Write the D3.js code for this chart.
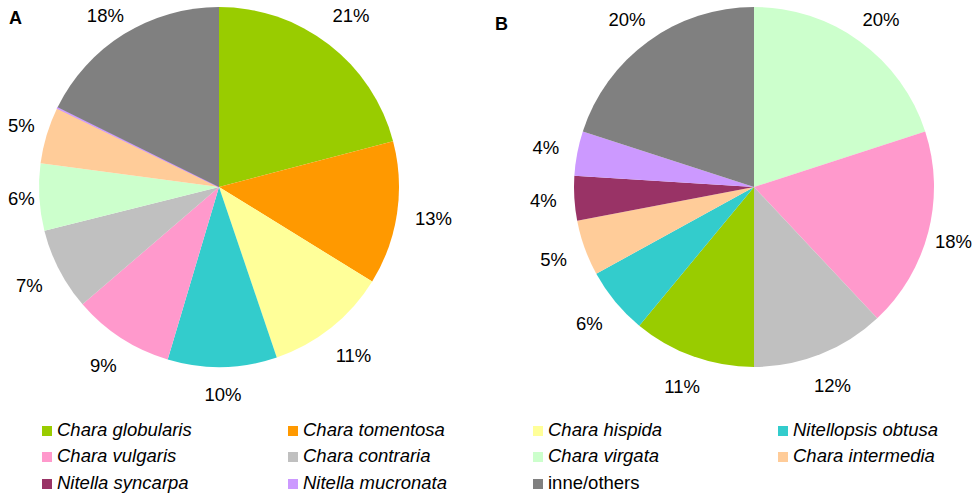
<!DOCTYPE html>
<html>
<head>
<meta charset="utf-8">
<script src="https://d3js.org/d3.v7.min.js"></script>
<style>
  body { margin: 0; background: #fff; }
  svg { display: block; font-family: "Liberation Sans", Arial, sans-serif; }
</style>
</head>
<body>
<script>
// species, colours and legend order
var species = ["Chara globularis", "Chara tomentosa", "Chara hispida", "Nitellopsis obtusa",
               "Chara vulgaris", "Chara contraria", "Chara virgata", "Chara intermedia",
               "Nitella syncarpa", "Nitella mucronata", "inne/others"];
var colors = ["#99CC00", "#FF9900", "#FFFF99", "#33CCCC", "#FF99CC", "#C0C0C0",
              "#CCFFCC", "#FFCC99", "#993366", "#CC99FF", "#808080"];
var italicNames = species.slice(0, 10);

// panel A (clockwise from 12 o'clock)
var namesA  = ["Chara globularis", "Chara tomentosa", "Chara hispida", "Nitellopsis obtusa",
               "Chara vulgaris", "Chara contraria", "Chara virgata", "Chara intermedia",
               "Nitella mucronata", "inne/others"];
var valuesA = [20.9, 12.9, 11.0, 9.8, 9.1, 7.4, 6.0, 5.1, 0.1, 17.7];
var labelsA = ["21%", "13%", "11%", "10%", "9%", "7%", "6%", "5%", "", "18%"];

// panel B
var namesB  = ["Chara virgata", "Chara vulgaris", "Chara contraria", "Chara globularis",
               "Nitellopsis obtusa", "Chara intermedia", "Nitella syncarpa",
               "Nitella mucronata", "inne/others"];
var valuesB = [20, 18, 12, 11, 6, 5, 4, 4, 20];
var labelsB = ["20%", "18%", "12%", "11%", "6%", "5%", "4%", "4%", "20%"];

var W = 977, H = 495, R = 180, gap = 17;
var color = d3.scaleOrdinal().domain(species).range(colors);

var svg = d3.select("body").append("svg").attr("width", W).attr("height", H);

// box = [xmin, xmax, ymin] limits for the label text boxes
function drawPie(cx, cy, title, tx, ty, box, names, values, labels) {
  var data = names.map(function(n, i){ return {name: n, value: values[i], label: labels[i]}; });
  var pie = d3.pie().sort(null).value(function(d){ return d.value; });
  var arc = d3.arc().innerRadius(0).outerRadius(R);

  var g = svg.append("g").attr("transform", "translate(" + cx + "," + cy + ")");
  var arcs = pie(data);

  g.selectAll("path")
    .data(arcs)
    .enter().append("path")
      .attr("d", arc)
      .attr("fill", function(d){ return color(d.data.name); })
      .attr("stroke", function(d){ return d.data.value < 0.5 ? color(d.data.name) : "none"; })
      .attr("stroke-width", 1);

  // labels sit just outside the rim, their box kept off the pie and inside the panel
  g.selectAll("text.pct")
    .data(arcs.filter(function(d){ return d.data.label; }))
    .enter().append("text")
      .attr("class", "pct")
      .attr("text-anchor", "middle")
      .attr("dy", "0.35em")
      .attr("font-size", "18.5px")
      .attr("fill", "#000")
      .text(function(d){ return d.data.label; })
      .each(function(d){
        var w = this.getComputedTextLength(), h = 20;
        var a = (d.startAngle + d.endAngle) / 2;
        var s = Math.sin(a), c = Math.cos(a);
        var dist = R + gap + w / 2 * Math.abs(s) + h / 2 * Math.abs(c);
        var x = dist * s, y = -dist * c;
        x = Math.max(box[0] - cx + w / 2, Math.min(box[1] - cx - w / 2, x));
        y = Math.max(box[2] - cy + h / 2, y);
        d3.select(this).attr("x", x).attr("y", y);
      });

  svg.append("text")
    .attr("x", tx)
    .attr("y", ty)
    .attr("font-size", "18px")
    .attr("font-weight", "bold")
    .text(title);
}

drawPie(219, 187, "A", 9, 24, [8, 480, 6], namesA, valuesA, labelsA);
drawPie(754, 187, "B", 495, 30, [500, 972, 10], namesB, valuesB, labelsB);

// legend, 4 columns
var colX = [42, 288, 533, 778], rowY = [426, 452, 479];
var leg = svg.append("g").selectAll("g")
  .data(species)
  .enter().append("g")
    .attr("transform", function(d, i){ return "translate(" + colX[i % 4] + "," + rowY[Math.floor(i / 4)] + ")"; });

leg.append("rect")
  .attr("width", 10).attr("height", 10)
  .attr("fill", function(d){ return color(d); });

leg.append("text")
  .attr("x", 15)
  .attr("y", 10)
  .attr("font-size", "18.5px")
  .attr("font-style", function(d){ return italicNames.indexOf(d) >= 0 ? "italic" : "normal"; })
  .text(function(d){ return d; });
</script>
</body>
</html>
